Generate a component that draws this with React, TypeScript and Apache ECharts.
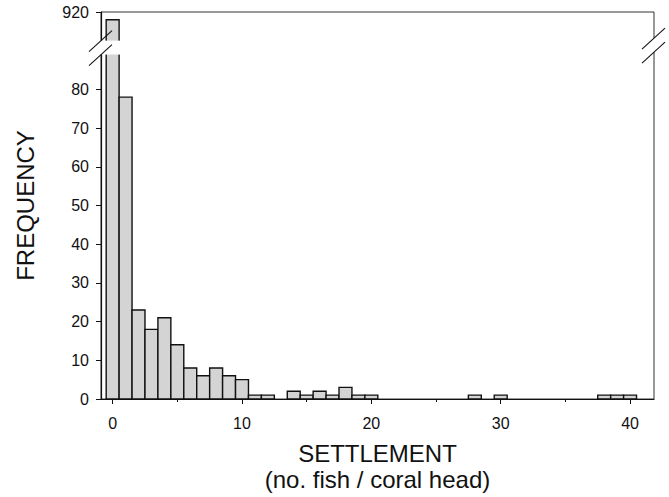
import React, { useEffect, useRef } from "react";
import * as echarts from "echarts";

// ---- data ----
const binCenters = [
  0, 1, 2, 3, 4, 5, 6, 7, 8, 9, 10, 11, 12, 13, 14, 15, 16, 17, 18, 19, 20,
  21, 22, 23, 24, 25, 26, 27, 28, 29, 30, 31, 32, 33, 34, 35, 36, 37, 38, 39, 40,
];
const frequencies = [
  918, 78, 23, 18, 21, 14, 8, 6, 8, 6, 5, 1, 1, 0, 2, 1, 2, 1, 3, 1, 1,
  0, 0, 0, 0, 0, 0, 0, 1, 0, 1, 0, 0, 0, 0, 0, 0, 0, 1, 1, 1,
];
const yTickValues = [0, 10, 20, 30, 40, 50, 60, 70, 80];
const yTopValue = 920;
const xTickValues = [0, 10, 20, 30, 40];
const xMinorTickValues = [5, 15, 25, 35];

// broken axis: values up to BREAK_LOW plotted as is; the upper segment is shifted
const BREAK_LOW = 90;
const AXIS_TOP = 100; // display value where 920 sits
const toDisplay = (v: number) => (v <= BREAK_LOW ? v : AXIS_TOP - (yTopValue - v));
const fromDisplayLabel = (d: number) => (d === AXIS_TOP ? String(yTopValue) : String(d));

const FONT = "'Liberation Sans', Arial, Helvetica, sans-serif";

export default function App() {
  const ref = useRef<HTMLDivElement>(null);
  useEffect(() => {
    document.body.style.margin = "0";
    const chart = echarts.init(ref.current!, null, { renderer: "svg" });
    const data = binCenters
      .map((x, i) => [x, frequencies[i]])
      .filter((d) => d[1] > 0);
    const gridLeft = 101;
    const gridRight = 15;
    const gridTop = 12;
    const gridBottom = 96;
    chart.setOption({
      animation: false,
      backgroundColor: "#ffffff",
      textStyle: { fontFamily: FONT },
      grid: {
        left: gridLeft,
        right: gridRight,
        top: gridTop,
        bottom: gridBottom,
        show: true,
        borderColor: "#333",
        borderWidth: 1,
        backgroundColor: "transparent",
      },
      xAxis: [
        {
          type: "value",
          min: -0.9,
          max: 41.85,
          position: "bottom",
          splitLine: { show: false },
          axisLine: { show: true, onZero: false, lineStyle: { color: "#111", width: 1.2 } },
          axisTick: { show: true, customValues: xTickValues, length: 5, lineStyle: { color: "#111" } },
          axisLabel: {
            show: true,
            customValues: xTickValues,
            fontSize: 16,
            color: "#111",
            margin: 16,
            fontFamily: FONT,
          },
          name: "SETTLEMENT\n(no. fish / coral head)",
          nameLocation: "middle",
          nameGap: 41,
          nameTextStyle: { fontSize: 24, lineHeight: 26, color: "#111", fontFamily: FONT },
        },
        {
          type: "value",
          min: -0.9,
          max: 41.85,
          position: "bottom",
          splitLine: { show: false },
          axisLine: { show: false },
          axisTick: { show: true, customValues: xMinorTickValues, length: 3, lineStyle: { color: "#111" } },
          axisLabel: { show: false },
        },
      ],
      yAxis: {
        type: "value",
        min: 0,
        max: AXIS_TOP,
        splitLine: { show: false },
        axisLine: { show: true, onZero: false, lineStyle: { color: "#111", width: 1.2 } },
        axisTick: {
          show: true,
          customValues: [...yTickValues, AXIS_TOP],
          length: 5,
          lineStyle: { color: "#111" },
        },
        axisLabel: {
          show: true,
          customValues: [...yTickValues, AXIS_TOP],
          formatter: (v: number) => fromDisplayLabel(v),
          fontSize: 16,
          color: "#111",
          margin: 12,
          fontFamily: FONT,
        },
        name: "FREQUENCY",
        nameLocation: "middle",
        nameGap: 64,
        nameTextStyle: { fontSize: 24, color: "#111", fontFamily: FONT },
      },
      series: [
        {
          type: "custom",
          xAxisIndex: 0,
          yAxisIndex: 0,
          data,
          renderItem: (params: any, api: any) => {
            const x = api.value(0);
            const v = api.value(1);
            const p0 = api.coord([x - 0.5, 0]);
            const p1 = api.coord([x + 0.5, toDisplay(v)]);
            return {
              type: "rect",
              shape: { x: p0[0], y: p1[1], width: p1[0] - p0[0], height: p0[1] - p1[1] },
              style: { fill: "#d4d4d4", stroke: "#111", lineWidth: 1.4 },
            };
          },
        },
      ],
    });

    // axis break decoration, positioned through the axis scale
    const yA = chart.convertToPixel({ yAxisIndex: 0 }, 92.6) as number;
    const yB = chart.convertToPixel({ yAxisIndex: 0 }, 89) as number;
    const xL = chart.convertToPixel({ xAxisIndex: 0 }, -0.9) as number;
    const xBar0R = chart.convertToPixel({ xAxisIndex: 0 }, 0.5) as number;
    const xR = chart.convertToPixel({ xAxisIndex: 0 }, 41.85) as number;
    const rOff = -2.5;
    const slash = (cx: number, cy: number) => ({
      type: "line",
      z: 101,
      shape: { x1: cx - 12, y1: cy + 11, x2: cx + 11, y2: cy - 10 },
      style: { stroke: "#111", lineWidth: 1.1 },
    });
    chart.setOption({
      graphic: [
        {
          type: "rect",
          z: 100,
          shape: { x: xL - 3, y: yA, width: xBar0R - xL + 5, height: yB - yA },
          style: { fill: "#ffffff" },
        },
        {
          type: "rect",
          z: 100,
          shape: { x: xR - 3, y: yA + rOff, width: 6, height: yB - yA },
          style: { fill: "#ffffff" },
        },
        slash(xL, yA),
        slash(xL, yB),
        slash(xR, yA + rOff),
        slash(xR, yB + rOff),
      ],
    });
    return () => chart.dispose();
  }, []);
  return (
    <div
      ref={ref}
      style={{ position: "fixed", left: 0, top: 0, width: 669, height: 497, background: "#fff" }}
    />
  );
}
